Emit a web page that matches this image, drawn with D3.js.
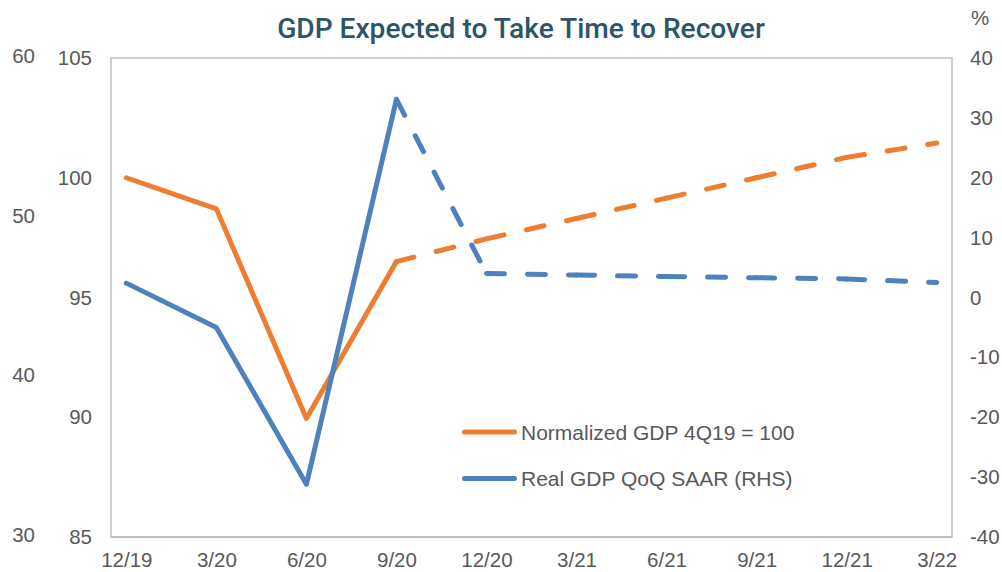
<!DOCTYPE html>
<html>
<head>
<meta charset="utf-8">
<script src="https://cdn.jsdelivr.net/npm/d3@7/dist/d3.min.js"></script>
<style>
  html, body { margin: 0; padding: 0; background: #fff; }
  svg { display: block; }
  text { font-family: "Liberation Sans", Arial, sans-serif; }
</style>
</head>
<body>
<svg id="chart" width="1002" height="572"></svg>
<script>
// Quarter-end labels along the x axis
const quarters = ["12/19", "3/20", "6/20", "9/20", "12/20", "3/21", "6/21", "9/21", "12/21", "3/22"];
// Level of real GDP, 4Q19 = 100 (left axis)
const gdpIndex = [100, 98.7, 89.95, 96.5, 97.45, 98.3, 99.15, 100.0, 100.85, 101.45];
// Real GDP growth, quarter over quarter, SAAR % (right axis)
const gdpQoq = [2.4, -5.0, -31.2, 33.1, 4.0, 3.75, 3.5, 3.3, 3.1, 2.5];
// Number of reported quarters; the rest are forecasts drawn dashed
const reportedCount = 4;

const leftTicks = [85, 90, 95, 100, 105];
const rightTicks = [-40, -30, -20, -10, 0, 10, 20, 30, 40];
const outerTicks = [30, 40, 50, 60];

const seriesNames = ["Normalized GDP 4Q19 = 100", "Real GDP QoQ SAAR (RHS)"];
const colors = ["#ED7D31", "#4F81BD"];
const titleText = "GDP Expected to Take Time to Recover";

const svg = d3.select("#chart");
const plot = { left: 111, right: 952, top: 58, bottom: 537 };

const x = d3.scalePoint().domain(quarters).range([plot.left, plot.right]).padding(0.17);
const yLeft = d3.scaleLinear().domain([85, 105]).range([plot.bottom, plot.top]);
const yRight = d3.scaleLinear().domain([-40, 40]).range([plot.bottom, plot.top]);
const yOuter = d3.scaleLinear().domain([30, 60]).range([plot.bottom - 2, plot.top - 2]);

const labelColor = "#595959";
const tickFont = "20.5px";
const plainNumber = d => String(d);   // hyphen-minus, no thousands grouping

// Title: medium-weight face, sized to span the header width
const title = svg.append("text")
  .attr("x", 521).attr("y", 38)
  .attr("text-anchor", "middle")
  .style("font-family", "Roboto, 'Liberation Sans', sans-serif")
  .style("font-weight", 500)
  .style("font-size", "29px")
  .attr("fill", "#2E5467")
  .text(titleText);
const titleWidth = 488;
const w0 = title.node().getComputedTextLength();
if (w0 > 0) title.style("font-size", (29 * titleWidth / w0).toFixed(2) + "px");

// Plot frame
svg.append("rect")
  .attr("x", plot.left).attr("y", plot.top)
  .attr("width", plot.right - plot.left).attr("height", plot.bottom - plot.top)
  .attr("fill", "none").attr("stroke", "#BFBFBF").attr("stroke-width", 1.5);

function styleAxis(g) {
  g.select(".domain").remove();
  g.selectAll(".tick line").remove();
  g.selectAll(".tick text")
    .attr("fill", labelColor)
    .style("font-size", tickFont)
    .style("font-family", "'Liberation Sans', Arial, sans-serif");
}

// Bottom axis
svg.append("g")
  .attr("transform", `translate(0,${plot.bottom})`)
  .call(d3.axisBottom(x).tickSizeOuter(0))
  .call(styleAxis)
  .call(g => g.selectAll(".tick text").attr("y", 30).attr("dy", null));
svg.append("line")
  .attr("x1", plot.left).attr("x2", plot.right)
  .attr("y1", plot.bottom).attr("y2", plot.bottom)
  .attr("stroke", "#BFBFBF").attr("stroke-width", 2);

// Left axis (index level)
svg.append("g")
  .attr("transform", `translate(${plot.left},0)`)
  .call(d3.axisLeft(yLeft).tickValues(leftTicks).tickFormat(plainNumber))
  .call(styleAxis)
  .call(g => g.selectAll(".tick text").attr("x", -19));

// Outer left axis
svg.append("g")
  .attr("transform", `translate(35,0)`)
  .call(d3.axisLeft(yOuter).tickValues(outerTicks).tickFormat(plainNumber))
  .call(styleAxis)
  .call(g => g.selectAll(".tick text").attr("x", 0));

// Right axis (percent)
svg.append("g")
  .attr("transform", `translate(${plot.right},0)`)
  .call(d3.axisRight(yRight).tickValues(rightTicks).tickFormat(plainNumber))
  .call(styleAxis)
  .call(g => g.selectAll(".tick text").attr("x", 18));

svg.append("text")
  .attr("x", 971).attr("y", 25)
  .attr("fill", labelColor)
  .style("font-size", tickFont)
  .text("%");

// Lines: solid for reported quarters, dashed segments for forecasts
const series = [
  { values: gdpIndex, y: yLeft, color: colors[0] },
  { values: gdpQoq, y: yRight, color: colors[1] }
];

series.forEach(s => {
  const pts = quarters.map((q, i) => ({ q, v: s.values[i] }));
  const line = d3.line().x(d => x(d.q)).y(d => s.y(d.v));
  const g = svg.append("g");
  g.append("path")
    .attr("d", line(pts.slice(0, reportedCount)))
    .attr("fill", "none").attr("stroke", s.color)
    .attr("stroke-width", 5)
    .attr("stroke-linejoin", "round").attr("stroke-linecap", "round");
  for (let i = reportedCount - 1; i < pts.length - 1; i++) {
    g.append("path")
      .attr("d", line([pts[i], pts[i + 1]]))
      .attr("fill", "none").attr("stroke", s.color)
      .attr("stroke-width", 5)
      .attr("stroke-dasharray", "18,23")
      .attr("stroke-linecap", "round");
  }
});

// Legend
const legend = svg.append("g");
seriesNames.forEach((name, i) => {
  const yy = 432 + i * 46.5;
  legend.append("line")
    .attr("x1", 464.5).attr("x2", 514.5)
    .attr("y1", yy).attr("y2", yy)
    .attr("stroke", colors[i]).attr("stroke-width", 5)
    .attr("stroke-linecap", "round");
  legend.append("text")
    .attr("x", 521).attr("y", yy).attr("dy", "0.36em")
    .attr("fill", labelColor)
    .style("font-size", "21px")
    .text(name);
});
</script>
</body>
</html>
